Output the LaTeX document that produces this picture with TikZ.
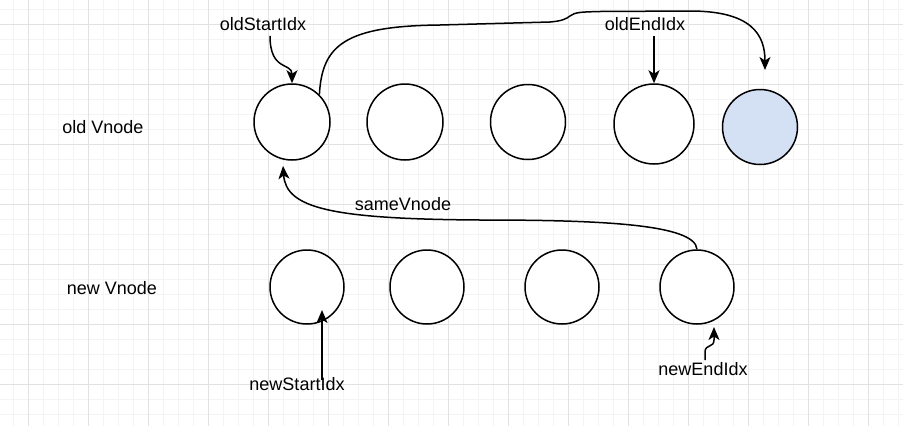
\documentclass[tikz,border=0pt]{standalone}
\usepackage{fontspec}
\setmainfont{Liberation Sans}
\usetikzlibrary{arrows.meta}
\definecolor{gridmajor}{HTML}{E2E2E2}
\definecolor{gridminor}{HTML}{F4F4F4}
\definecolor{bluefill}{HTML}{D4E1F5}
\begin{document}
\begin{tikzpicture}[x=1pt,y=-1pt,
  vnode/.style={circle,draw=black,line width=1.5pt,fill=white,inner sep=0pt},
  lbl/.style={inner sep=0pt,font=\fontsize{18}{20}\selectfont},
  conn/.style={line width=1.5pt,-{Stealth[length=13pt,width=11pt,inset=3.5pt]}}]
\useasboundingbox (0,0) rectangle (903,426);
\fill[white] (0,0) rectangle (903,426);
\begin{scope}
\clip (0,0) rectangle (903,426);
\foreach \x in {-2,13,...,910} \draw[gridminor,line width=1pt] (\x,0) -- (\x,426);
\foreach \y in {-5.7,9.3,...,430} \draw[gridminor,line width=1pt] (0,\y) -- (903,\y);
\foreach \x in {28,88,...,900} \draw[gridmajor,line width=1pt] (\x,0) -- (\x,426);
\foreach \y in {24.3,84.3,...,430} \draw[gridmajor,line width=1pt] (0,\y) -- (903,\y);
\end{scope}

% old row
\node[vnode,minimum size=76pt] (o1) at (292,122) {};
\node[vnode,minimum size=76pt] (o2) at (405,122) {};
\node[vnode,minimum size=75pt] (o3) at (528,122) {};
\node[vnode,minimum size=80pt] (o4) at (654,124) {};
\node[vnode,minimum size=75pt,fill=bluefill] (o5) at (760,127) {};
% new row
\node[vnode,minimum size=74pt] (n1) at (307,287) {};
\node[vnode,minimum size=74pt] (n2) at (427,287) {};
\node[vnode,minimum size=74pt] (n3) at (562,287) {};
\node[vnode,minimum size=74pt] (n4) at (697,287) {};

% labels
\node[lbl] (oldv) at (103,127) {old Vnode};
\node[lbl] (newv) at (112,288) {new Vnode};
\node[lbl] (oS) at (263,24) {oldStartIdx};
\node[lbl] (oE) at (645,24) {oldEndIdx};
\node[lbl] (same) at (403,204) {sameVnode};
\node[lbl] (nS) at (297,384) {newStartIdx};
\node[lbl] (nE) at (703,369) {newEndIdx};

% free ends
\coordinate (t5) at (765,70);
\coordinate (t1) at (283,166);
\coordinate (t6) at (322,310);
\coordinate (t7) at (714,327);

% connectors
\draw[conn] ([xshift=7pt,yshift=-5pt]oS.south) .. controls (270,72) and (292,62) .. (o1.north);
\draw[conn] (o1.45) .. controls (322,45) and (345,26) .. (440,25) -- (550,22)
  .. controls (562,21) and (566,19) .. (570,16) .. controls (575,12) and (582,12) .. (600,11.5)
  -- (690,11) .. controls (752,11) and (765,35) .. (t5);
\draw[conn] ([yshift=-5pt]o4.north |- oE.south) -- (o4.north);
\draw[conn] (n4.north) .. controls (695,224) and (600,220) .. (480,220)
  .. controls (330,219) and (286,208) .. (t1);
\draw[conn] ([xshift=25pt,yshift=-3pt]nS.north) -- (t6);
\draw[conn] ([xshift=2pt,yshift=2pt]nE.north) -- (705,352) .. controls (705,344) and (714,348) .. (714,340) -- (t7);
\end{tikzpicture}
\end{document}
